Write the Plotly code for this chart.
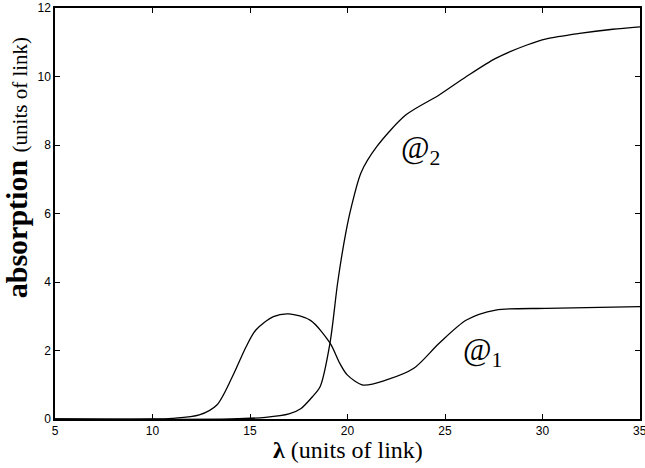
import plotly.graph_objects as go

# a1 curve
x_a1 = [5, 10, 11, 12.4, 13.3, 14.1, 14.8, 15.3, 16.2, 17.0, 18.1, 19.1, 19.6, 20.0, 20.8, 22.0, 23.4, 24.7, 26.1, 27.6, 30.2, 35]
y_a1 = [0, 0, 0.02, 0.12, 0.41, 1.24, 2.11, 2.6, 2.99, 3.07, 2.88, 2.22, 1.63, 1.28, 0.99, 1.14, 1.48, 2.21, 2.89, 3.18, 3.23, 3.28]

# a2 curve
x_a2 = [5, 14, 15.8, 17.0, 17.6, 18.2, 18.6, 19.1, 19.5, 19.9, 20.2, 20.7, 21.5, 23.0, 24.7, 26.1, 27.6, 29.2, 30.2, 31.9, 33.6, 35]
y_a2 = [0, 0, 0.05, 0.15, 0.3, 0.65, 0.95, 2.21, 4.0, 5.4, 6.2, 7.2, 7.95, 8.88, 9.46, 10.0, 10.53, 10.92, 11.1, 11.26, 11.38, 11.45]

x_ticks = [5, 10, 15, 20, 25, 30, 35]
y_ticks = [0, 2, 4, 6, 8, 10, 12]

fig = go.Figure()
fig.add_trace(go.Scatter(x=x_a1, y=y_a1, mode="lines", line=dict(color="black", width=1.3, shape="spline", smoothing=0.8), showlegend=False))
fig.add_trace(go.Scatter(x=x_a2, y=y_a2, mode="lines", line=dict(color="black", width=1.3, shape="spline", smoothing=0.8), showlegend=False))

serif = "Liberation Serif, Times New Roman, serif"
fig.add_annotation(x=23.75, y=7.85, text="@<sub>2</sub>", showarrow=False, font=dict(family=serif, size=31, color="black"))
fig.add_annotation(x=26.9, y=1.95, text="@<sub>1</sub>", showarrow=False, font=dict(family=serif, size=31, color="black"))

# axis titles
fig.add_annotation(xref="paper", yref="paper", x=0.5, y=-0.075, yanchor="middle", xanchor="center",
                   text="<b>λ</b> (units of link)", showarrow=False,
                   font=dict(family=serif, size=24, color="black"))
fig.add_annotation(xref="paper", yref="paper", x=-0.066, y=0.611, xanchor="center", yanchor="middle", textangle=-90,
                   text="<b>absorption</b> <span style='font-size:21px'>(units of link)</span>", showarrow=False,
                   font=dict(family=serif, size=30, color="black"))
# right-edge tick label that is cut off in the original
fig.add_annotation(xref="x", yref="paper", x=35, y=-0.008, yanchor="top", xanchor="center", text="35",
                   showarrow=False, font=dict(family="Liberation Sans, Arial, sans-serif", size=12, color="black"))

axis_common = dict(showline=True, linecolor="black", linewidth=1.5, mirror="ticks", ticks="inside",
                   ticklen=5, tickcolor="black", showgrid=False, zeroline=False, automargin=False,
                   tickfont=dict(family="Liberation Sans, Arial, sans-serif", size=12, color="black"))

fig.update_xaxes(range=[5, 35], tickvals=x_ticks[:-1], ticktext=[str(v) for v in x_ticks[:-1]], **axis_common)
fig.update_yaxes(range=[0, 12], tickvals=y_ticks, ticktext=[str(v) for v in y_ticks], **axis_common)

fig.update_layout(width=645, height=468, margin=dict(l=55, r=5, t=8, b=49),
                  plot_bgcolor="white", paper_bgcolor="white")
fig.write_html("out.html", config={"displayModeBar": False},
               post_script="document.body.style.margin='0';document.body.style.overflow='hidden';")
